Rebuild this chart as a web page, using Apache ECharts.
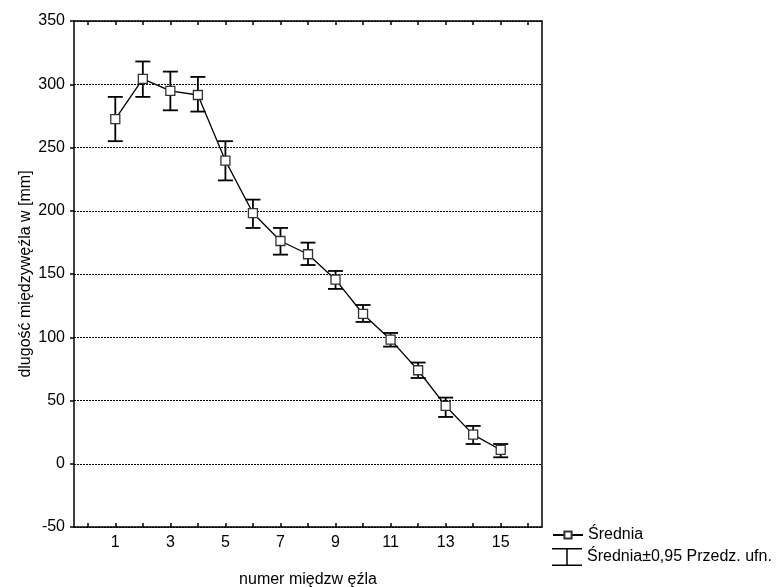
<!DOCTYPE html>
<html>
<head>
<meta charset="utf-8">
<script src="https://cdn.jsdelivr.net/npm/echarts@6/dist/echarts.min.js"></script>
<style>
  html, body { margin: 0; padding: 0; background: #fff; }
  #chart { width: 780px; height: 587px; }
</style>
</head>
<body>
<div id="chart"></div>
<script>
// numer międzywęźla
var nodes = [1, 2, 3, 4, 5, 6, 7, 8, 9, 10, 11, 12, 13, 14, 15];
// średnia
var means = [272.5, 304.2, 294.7, 291.5, 239.6, 198.2, 176.1, 165.6, 145.5, 118.4, 98.1, 73.9, 45.7, 23.0, 10.9];
// granice przedziału ufności 0,95
var upper = [290, 318, 310, 305.8, 255, 208.8, 186.4, 174.8, 152.4, 125.5, 103.4, 80, 52.3, 29.9, 15.6];
var lower = [255, 290, 279.4, 278.4, 224, 186.4, 165.3, 157.1, 138.2, 112.1, 92.6, 67.8, 37, 15.6, 5.1];
var xTicks = [0, 1, 2, 3, 4, 5, 6, 7, 8, 9, 10, 11, 12, 13, 14, 15, 16];
var xLabels = [1, 3, 5, 7, 9, 11, 13, 15];

var FONT = 'Liberation Sans';
var meanName = 'Średnia';
var ciName = 'Średnia±0,95 Przedz. ufn.';

var chart = echarts.init(document.getElementById('chart'));

var meanData = nodes.map(function (n, i) { return [n, means[i]]; });
var ciData = nodes.map(function (n, i) { return [n, lower[i], upper[i]]; });

var option = {
  backgroundColor: '#fff',
  animation: false,
  textStyle: { fontFamily: FONT, color: '#000' },
  grid: { left: 74, right: 238, top: 21, bottom: 60, outerBoundsMode: 'none' },
  legend: [{
    data: [meanName],
    orient: 'vertical',
    left: 552, top: 527, padding: 0,
    itemWidth: 30, itemHeight: 9,
    textStyle: { fontFamily: FONT, fontSize: 16, color: '#000' }
  }, {
    data: [{
      name: ciName,
      icon: 'path://M0,0h30v1.5h-30z M14.25,0h1.5v18h-1.5z M0,16.5h30v1.5h-30z',
      itemStyle: { color: '#000' }
    }],
    orient: 'vertical',
    left: 552, top: 548, padding: 0,
    itemWidth: 30, itemHeight: 18,
    textStyle: { fontFamily: FONT, fontSize: 16, color: '#000' }
  }],
  xAxis: [{
    type: 'value', min: -0.5, max: 16.5,
    name: 'numer międzw ęźla', nameLocation: 'middle', nameGap: 45,
    nameTextStyle: { fontFamily: FONT, fontSize: 16, color: '#000' },
    axisLine: { onZero: false, lineStyle: { color: '#000', width: 1.5 } },
    axisTick: { inside: true, length: 4, customValues: xTicks, lineStyle: { color: '#000', width: 1.5 } },
    axisLabel: { customValues: xLabels, margin: 8, fontFamily: FONT, fontSize: 16, color: '#000' },
    splitLine: { show: false }
  }, {
    type: 'value', position: 'top', min: -0.5, max: 16.5,
    axisLine: { onZero: false, lineStyle: { color: '#000', width: 1.5 } },
    axisTick: { inside: true, length: 4, customValues: xTicks, lineStyle: { color: '#000', width: 1.5 } },
    axisLabel: { show: false },
    splitLine: { show: false }
  }],
  yAxis: [{
    type: 'value', min: -50, max: 350, interval: 50,
    name: 'dlugość międzywęźla w [mm]', nameLocation: 'middle', nameGap: 40, nameRotate: 90,
    nameMoveOverlap: false,
    nameTextStyle: { fontFamily: FONT, fontSize: 16, color: '#000' },
    axisLine: { show: true, onZero: false, lineStyle: { color: '#000', width: 1.5 } },
    axisTick: { show: true, length: 4, lineStyle: { color: '#000', width: 1.5 } },
    axisLabel: { margin: 9, fontFamily: FONT, fontSize: 16, color: '#000' },
    splitLine: { show: true, lineStyle: { color: '#000', width: 1, type: [2, 1] } }
  }, {
    type: 'value', position: 'right', min: -50, max: 350, interval: 50,
    axisLine: { show: true, onZero: false, lineStyle: { color: '#000', width: 1.5 } },
    axisTick: { show: false },
    axisLabel: { show: false },
    splitLine: { show: false }
  }],
  series: [{
    name: ciName,
    type: 'custom',
    data: ciData,
    z: 2,
    renderItem: function (params, api) {
      var x = api.value(0);
      var lo = api.coord([x, api.value(1)]);
      var hi = api.coord([x, api.value(2)]);
      var hw = 7.5;
      var st = { stroke: '#000', lineWidth: 1.8 };
      return {
        type: 'group',
        children: [
          { type: 'line', shape: { x1: lo[0], y1: lo[1], x2: hi[0], y2: hi[1] }, style: st },
          { type: 'line', shape: { x1: hi[0] - hw, y1: hi[1], x2: hi[0] + hw, y2: hi[1] }, style: st },
          { type: 'line', shape: { x1: lo[0] - hw, y1: lo[1], x2: lo[0] + hw, y2: lo[1] }, style: st }
        ]
      };
    }
  }, {
    name: meanName,
    type: 'line',
    data: meanData,
    z: 3,
    symbol: 'rect',
    symbolSize: 9,
    lineStyle: { color: '#000', width: 1.3 },
    itemStyle: { color: '#fff', borderColor: '#333', borderWidth: 1.3 }
  }]
};

chart.setOption(option);
</script>
</body>
</html>
